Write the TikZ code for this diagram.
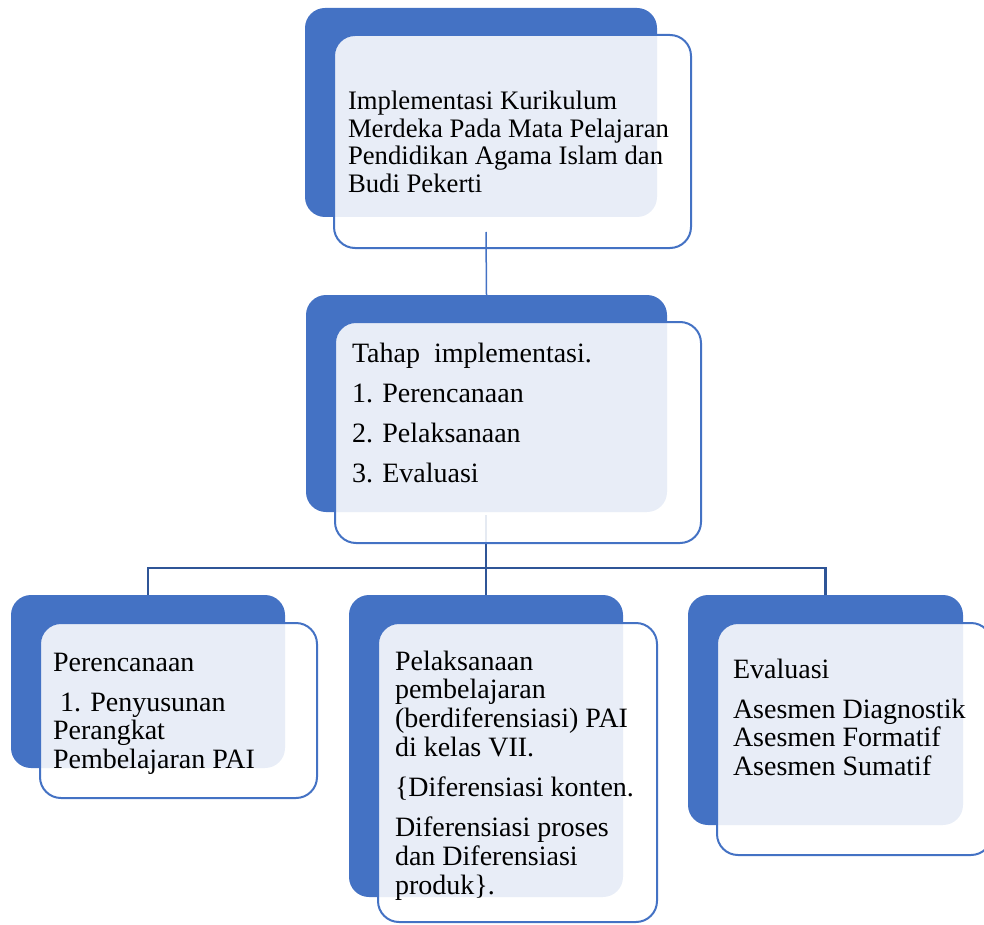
\documentclass[tikz,border=0pt]{standalone}
\usepackage{fontspec}
\setmainfont{Liberation Serif}
\definecolor{accent}{HTML}{4472C4}
\definecolor{linkblue}{HTML}{2F5597}
\begin{document}
\begin{tikzpicture}[x=1pt,y=-1pt,
  backbox/.style={fill=accent, rounded corners=20pt, anchor=north west, inner sep=0pt, outer sep=0pt},
  frontbox/.style={draw=accent, line width=2pt, fill=white, fill opacity=0.88, rounded corners=21pt, anchor=north west, inner sep=0pt, outer sep=0pt},
  link/.style={draw=linkblue, line width=2.5pt},
  toplink/.style={draw=accent, line width=1.5pt},
  txt/.style={anchor=base west, inner sep=0pt, outer sep=0pt, font=\fontsize{28}{28.8}\selectfont},
  toptxt/.style={anchor=base west, inner sep=0pt, outer sep=0pt, font=\fontsize{26.7}{27.4}\selectfont}]
\useasboundingbox (0,0) rectangle (984,925);
% back boxes
\node[backbox, minimum width=352pt, minimum height=209pt] (topback) at (305,8) {};
\node[backbox, minimum width=361pt, minimum height=217pt] (midback) at (306,295) {};
\node[backbox, minimum width=274pt, minimum height=173pt] (leftback) at (11,595) {};
\node[backbox, minimum width=274pt, minimum height=302pt] (centback) at (349,595) {};
\node[backbox, minimum width=275pt, minimum height=230pt] (rightback) at (688,595) {};
% connectors below the front boxes
\coordinate (c2) at (486,515);
\coordinate (bar) at (486,568);
\draw[link] (c2) -- (bar);
\draw[link] (leftback.north) -- (leftback.north |- bar) -- (rightback.north |- bar) -- (rightback.north);
\draw[link] (bar) -- (centback.north);
% front boxes
\node[frontbox, minimum width=357pt, minimum height=213pt] (topfront) at (334,35) {};
\node[frontbox, minimum width=366pt, minimum height=221pt] (midfront) at (335,322) {};
\node[frontbox, minimum width=277pt, minimum height=175pt] (leftfront) at (40,623) {};
\node[frontbox, minimum width=279pt, minimum height=299pt] (centfront) at (378,623) {};
\node[frontbox, minimum width=275pt, minimum height=232pt] (rightfront) at (717,623) {};
% top connector
\coordinate (c1) at (486,232);
\draw[toplink] (c1) -- (midback.north);
% texts
\node[toptxt] (toptext) at (348,110) {\parbox[t]{400pt}{\raggedright Implementasi Kurikulum\\Merdeka Pada Mata Pelajaran\\Pendidikan Agama Islam dan\\Budi Pekerti}};
\node[txt] (midtext) at (352,362) {\parbox[t]{400pt}{\raggedright Tahap\ \ implementasi.\\[11.2pt]1. Perencanaan\\[11.2pt]2. Pelaksanaan\\[11.2pt]3. Evaluasi}};
\node[txt] (lefttext) at (53,671) {\parbox[t]{400pt}{\raggedright Perencanaan\\[11.2pt]\hspace*{7pt}1. Penyusunan\\Perangkat\\Pembelajaran PAI}};
\node[txt] (centtext) at (395,670) {\parbox[t]{400pt}{\raggedright Pelaksanaan\\pembelajaran\\(berdiferensiasi) PAI\\di kelas VII.\\[11.2pt]\{Diferensiasi konten.\\[11.2pt]Diferensiasi proses\\dan Diferensiasi\\produk\}.}};
\node[txt] (righttext) at (733,678) {\parbox[t]{400pt}{\raggedright Evaluasi\\[11.2pt]Asesmen Diagnostik\\Asesmen Formatif\\Asesmen Sumatif}};
\end{tikzpicture}
\end{document}
